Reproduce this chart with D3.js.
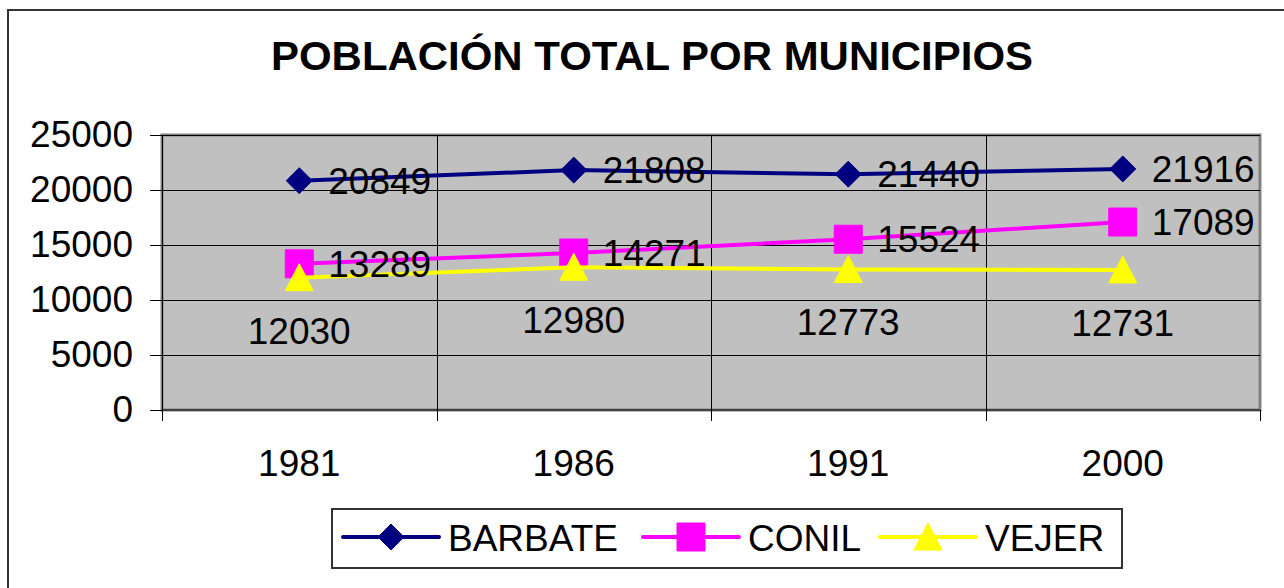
<!DOCTYPE html>
<html>
<head>
<meta charset="utf-8">
<script src="https://cdn.jsdelivr.net/npm/d3@7"></script>
<style>
  body { margin: 0; background: #fff; }
  svg { font-family: "Liberation Sans", Arial, sans-serif; }
</style>
</head>
<body>
<svg id="chart" width="1284" height="588"></svg>
<script>
const years = ["1981", "1986", "1991", "2000"];
const barbate = [20849, 21808, 21440, 21916];
const conil = [13289, 14271, 15524, 17089];
const vejer = [12030, 12980, 12773, 12731];
const yTicks = [0, 5000, 10000, 15000, 20000, 25000];

const series = [
  { name: "BARBATE", values: barbate, color: "#000080", marker: "diamond", label: "right" },
  { name: "CONIL", values: conil, color: "#FF00FF", marker: "square", label: "right" },
  { name: "VEJER", values: vejer, color: "#FFFF00", marker: "triangle", label: "below" }
];

const svg = d3.select("#chart");

// outer chart frame
svg.append("rect")
  .attr("x", 8).attr("y", 10)
  .attr("width", 1300).attr("height", 600)
  .attr("fill", "#fff")
  .attr("stroke", "#333").attr("stroke-width", 2);

// title
svg.append("text")
  .attr("x", 652).attr("y", 70)
  .attr("text-anchor", "middle")
  .attr("font-size", 40).attr("font-weight", "bold")
  .attr("textLength", 762).attr("lengthAdjust", "spacingAndGlyphs")
  .text("POBLACIÓN TOTAL POR MUNICIPIOS");

const plot = { left: 162, top: 135, right: 1260, bottom: 410 };

const x = d3.scaleBand().domain(years).range([plot.left, plot.right]);
const y = d3.scaleLinear().domain([0, 25000]).range([plot.bottom, plot.top]);

// plot background
svg.append("rect")
  .attr("x", plot.left).attr("y", plot.top)
  .attr("width", plot.right - plot.left).attr("height", plot.bottom - plot.top)
  .attr("fill", "#C0C0C0")
  .attr("stroke", "#808080").attr("stroke-width", 3);

// gridlines
svg.append("g")
  .selectAll("line")
  .data(yTicks.slice(1))
  .join("line")
  .attr("x1", plot.left).attr("x2", plot.right)
  .attr("y1", d => Math.round(y(d)) + 0.5).attr("y2", d => Math.round(y(d)) + 0.5)
  .attr("stroke", "#000").attr("stroke-width", 1);

svg.append("g")
  .selectAll("line")
  .data(years.slice(1))
  .join("line")
  .attr("x1", d => Math.round(x(d)) + 0.5).attr("x2", d => Math.round(x(d)) + 0.5)
  .attr("y1", plot.top).attr("y2", plot.bottom)
  .attr("stroke", "#000").attr("stroke-width", 1);

// y axis
const yAxis = svg.append("g")
  .attr("transform", `translate(${plot.left},0)`)
  .call(d3.axisLeft(y).tickValues(yTicks).tickSize(12).tickPadding(17).tickFormat(d3.format("d")));
yAxis.select(".domain").attr("stroke", "#000").attr("stroke-width", 1);
yAxis.selectAll(".tick line").attr("stroke", "#000");
yAxis.selectAll(".tick text").attr("font-size", 37).attr("fill", "#000")
  .attr("font-family", "Liberation Sans, Arial, sans-serif");

// x axis: ticks at band edges
const xAxis = svg.append("g")
  .attr("transform", `translate(0,${plot.bottom})`);
xAxis.append("line")
  .attr("x1", plot.left).attr("x2", plot.right)
  .attr("stroke", "#000");
xAxis.selectAll("line.edge")
  .data(years.map(d => x(d)).concat([plot.right]))
  .join("line")
  .attr("class", "edge")
  .attr("x1", d => Math.round(d) + 0.5).attr("x2", d => Math.round(d) + 0.5)
  .attr("y1", 0).attr("y2", 11)
  .attr("stroke", "#000");
xAxis.selectAll("text")
  .data(years)
  .join("text")
  .attr("x", d => x(d) + x.bandwidth() / 2)
  .attr("y", 66)
  .attr("text-anchor", "middle")
  .attr("font-size", 37)
  .text(d => d);

const cx = (d, i) => x(years[i]) + x.bandwidth() / 2;

function markerPath(type) {
  if (type === "diamond") return "M0,-13L13,0L0,13L-13,0Z";
  if (type === "square") return "M-14,-14H14V14H-14Z";
  return "M0,-14L14,13L-14,13Z";
}

const line = d3.line().x(cx).y(d => y(d));

series.forEach(s => {
  const g = svg.append("g");
  g.append("path")
    .datum(s.values)
    .attr("d", line)
    .attr("fill", "none")
    .attr("stroke", s.color).attr("stroke-width", 4)
    .attr("stroke-linejoin", "round");
  g.selectAll("path.m")
    .data(s.values)
    .join("path")
    .attr("class", "m")
    .attr("transform", (d, i) => `translate(${cx(d, i)},${y(d)})`)
    .attr("d", markerPath(s.marker))
    .attr("fill", s.color)
    .attr("stroke", s.color).attr("stroke-width", 1).attr("stroke-linejoin", "round");
});

// data labels drawn above all lines
series.forEach(s => {
  svg.append("g")
    .selectAll("text")
    .data(s.values)
    .join("text")
    .attr("x", (d, i) => s.label === "right" ? cx(d, i) + 29 : cx(d, i))
    .attr("y", d => s.label === "right" ? y(d) + 13 : y(d) + 66)
    .attr("text-anchor", s.label === "right" ? "start" : "middle")
    .attr("font-size", 37)
    .text(d => d);
});

// legend
const legend = svg.append("g");
legend.append("rect")
  .attr("x", 332).attr("y", 509)
  .attr("width", 790).attr("height", 59)
  .attr("fill", "#fff")
  .attr("stroke", "#333").attr("stroke-width", 2);

const legendX = [343, 643, 880];
series.forEach((s, i) => {
  const lg = legend.append("g").attr("transform", `translate(${legendX[i]},537)`);
  lg.append("line")
    .attr("x1", 0).attr("x2", 96)
    .attr("stroke", s.color).attr("stroke-width", 4).attr("stroke-linecap", "round");
  lg.append("path")
    .attr("transform", "translate(48,0)")
    .attr("d", markerPath(s.marker))
    .attr("fill", s.color)
    .attr("stroke", s.color).attr("stroke-linejoin", "round");
  lg.append("text")
    .attr("x", 105).attr("y", 14)
    .attr("font-size", 37)
    .text(s.name);
});
</script>
</body>
</html>
